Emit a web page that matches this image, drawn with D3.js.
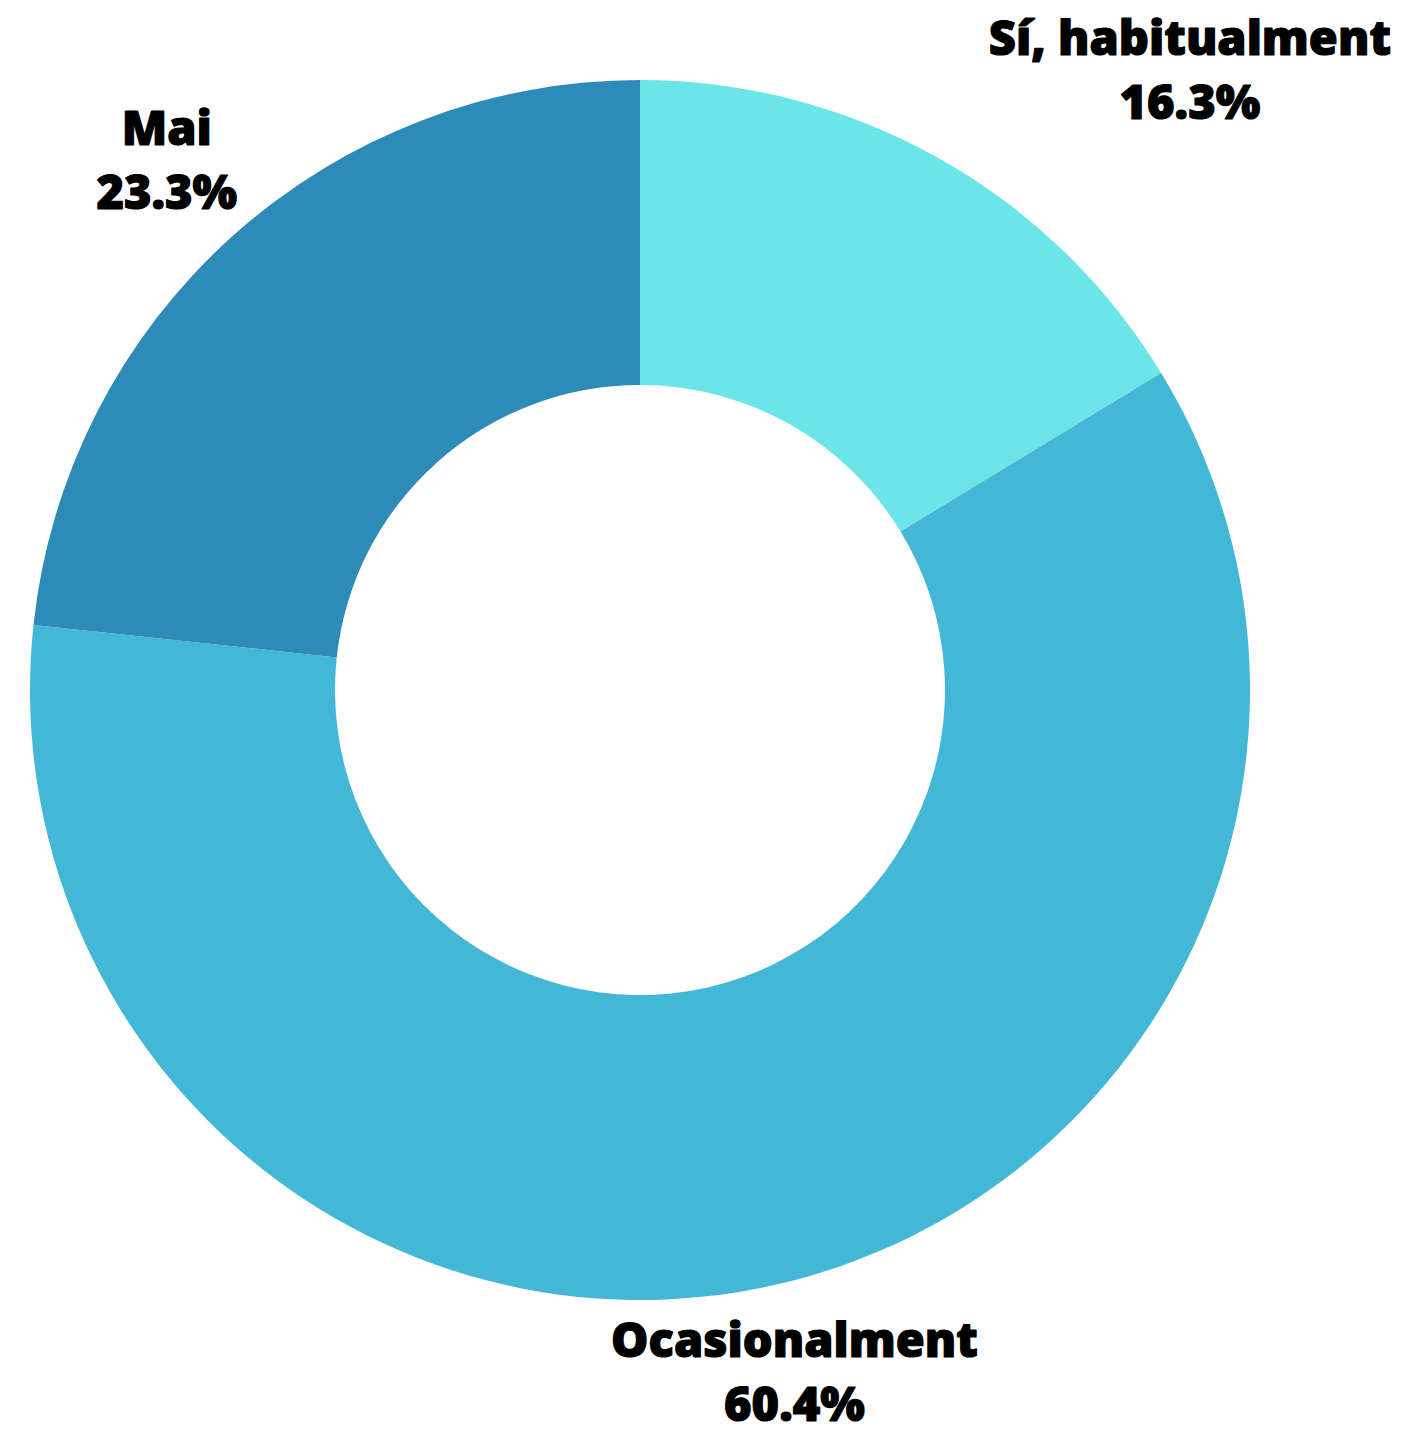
<!DOCTYPE html>
<html>
<head>
<meta charset="utf-8">
<style>
  body { margin: 0; background: #fff; }
  .lbl { font-family: "Open Sans", sans-serif; font-weight: 800; font-size: 47px; fill: #000; stroke: #000; stroke-width: 1.2px; stroke-linejoin: round; }
</style>
<script src="https://cdn.jsdelivr.net/npm/d3@7"></script>
</head>
<body>
<svg width="1411" height="1440"></svg>
<script>
// slices, clockwise from 12 o'clock
var categories = ["Sí, habitualment", "Ocasionalment", "Mai"];
var shares = [16.3, 60.4, 23.3];
var colors = ["#6ce5e8", "#43b7d6", "#2e8bb8"];

var svg = d3.select("svg"),
    cx = 640, cy = 690,
    outer = 610, inner = 305,
    labelR = 708;

var data = categories.map(function (c, i) {
  return { name: c, value: shares[i], color: colors[i] };
});

var pie = d3.pie().sort(null).value(function (d) { return d.value; });
var arc = d3.arc().innerRadius(inner).outerRadius(outer);
var labelArc = d3.arc().innerRadius(labelR).outerRadius(labelR);

var g = svg.append("g").attr("transform", "translate(" + cx + "," + cy + ")");

var arcs = pie(data);

g.selectAll("path")
  .data(arcs)
  .enter().append("path")
  .attr("d", arc)
  .attr("fill", function (d) { return d.data.color; });

// labels sit on the mid angle; the first one gets pushed right like in the original
var nudge = { 0: 203 };

var lbl = g.selectAll("text")
  .data(arcs)
  .enter().append("text")
  .attr("class", "lbl")
  .attr("text-anchor", "middle")
  .attr("transform", function (d, i) {
    var p = labelArc.centroid(d);
    var dy = p[1] > 0 ? -24 : -18;
    return "translate(" + (p[0] + (nudge[i] || 0)) + "," + (p[1] + dy) + ")";
  });

lbl.append("tspan")
  .attr("x", 0)
  .text(function (d) { return d.data.name; });

lbl.append("tspan")
  .attr("x", 0)
  .attr("dy", 64)
  .text(function (d) { return d.data.value.toFixed(1) + "%"; });
</script>
</body>
</html>
